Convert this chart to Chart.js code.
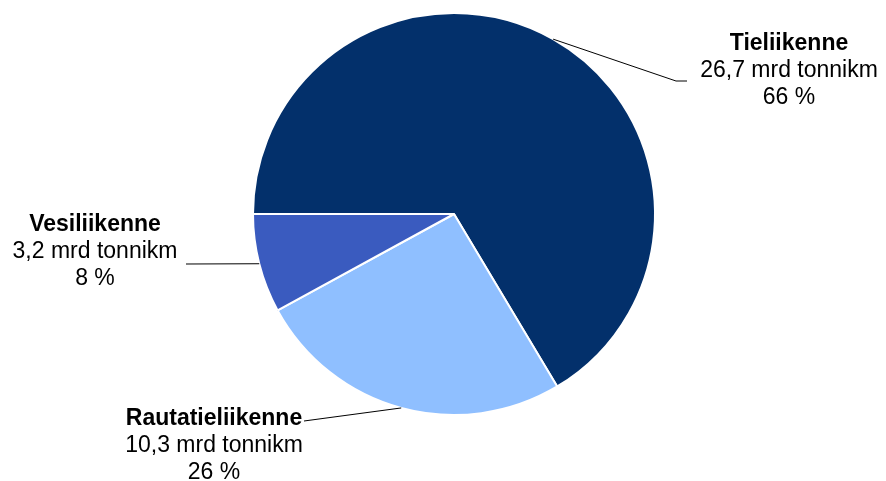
<!DOCTYPE html>
<html>
<head>
<meta charset="utf-8">
<script src="https://cdn.jsdelivr.net/npm/chart.js@4/dist/chart.umd.min.js"></script>
<style>
html,body{margin:0;padding:0;background:#fff;}
#wrap{width:886px;height:481px;position:relative;}
</style>
</head>
<body>
<div id="wrap"><canvas id="c" width="886" height="481"></canvas></div>
<script>
const categories = ["Tieliikenne", "Rautatieliikenne", "Vesiliikenne"];
const valueLabels = ["26,7 mrd tonnikm", "10,3 mrd tonnikm", "3,2 mrd tonnikm"];
const values = [26.7, 10.3, 3.2];
const percentLabels = ["66 %", "26 %", "8 %"];
const colors = ["#03306B", "#8FBFFF", "#3A5BBF"];

// label layout: text block centre and leader end point (layout only)
const labelLayout = [
  {tx: 789, ty: 44, elbow: [676, 81], end: [687, 81]},
  {tx: 214, ty: 419, elbow: null, end: [304, 421]},
  {tx: 95, ty: 225, elbow: null, end: [186, 264]}
];

const labelPlugin = {
  id: 'pieLabels',
  afterDatasetsDraw(chart) {
    const ctx = chart.ctx;
    const meta = chart.getDatasetMeta(0);
    meta.data.forEach((arc, i) => {
      const p = arc.getProps(['x','y','startAngle','endAngle','outerRadius'], true);
      const mid = (p.startAngle + p.endAngle) / 2;
      const sx = p.x + Math.cos(mid) * p.outerRadius;
      const sy = p.y + Math.sin(mid) * p.outerRadius;
      const L = labelLayout[i];
      ctx.save();
      ctx.strokeStyle = '#000';
      ctx.lineWidth = 1;
      ctx.beginPath();
      ctx.moveTo(sx, sy);
      if (L.elbow) ctx.lineTo(L.elbow[0], L.elbow[1]);
      ctx.lineTo(L.end[0], L.end[1]);
      ctx.stroke();
      ctx.fillStyle = '#000';
      ctx.textAlign = 'center';
      ctx.textBaseline = 'middle';
      ctx.font = 'bold 23px "Liberation Sans", Arial, sans-serif';
      ctx.fillText(categories[i], L.tx, L.ty);
      ctx.font = '23px "Liberation Sans", Arial, sans-serif';
      ctx.fillText(valueLabels[i], L.tx, L.ty + 27);
      ctx.fillText(percentLabels[i], L.tx, L.ty + 54);
      ctx.restore();
    });
  }
};

new Chart(document.getElementById('c'), {
  type: 'pie',
  data: {
    labels: categories,
    datasets: [{
      data: values,
      backgroundColor: colors,
      borderColor: '#ffffff',
      borderWidth: 2
    }]
  },
  options: {
    responsive: false,
    animation: false,
    rotation: -90,
    layout: {padding: {left: 252, right: 230, top: 12, bottom: 65}},
    plugins: {legend: {display: false}, tooltip: {enabled: false}}
  },
  plugins: [labelPlugin]
});
</script>
</body>
</html>
